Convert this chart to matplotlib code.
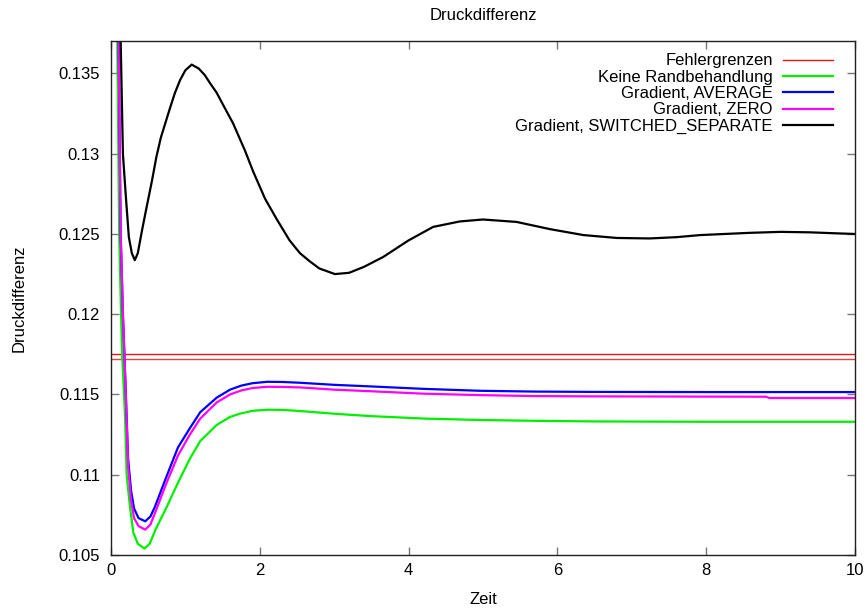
import matplotlib
matplotlib.use("Agg")
import matplotlib.pyplot as plt

plt.rcParams["font.family"] = ["Liberation Sans", "DejaVu Sans"]
plt.rcParams["font.size"] = 12

# Fehlergrenzen (two horizontal limits)
limits = [0.11755, 0.11718]

# Keine Randbehandlung (green)
x_green = [0.05, 0.085, 0.11, 0.135, 0.15, 0.17, 0.19, 0.21, 0.255, 0.30, 0.36,
           0.45, 0.52, 0.60, 0.75, 0.90, 1.06, 1.20, 1.42, 1.60, 1.73, 1.90, 2.10,
           2.30, 2.54, 3.00, 3.50, 4.20, 4.96, 5.70, 6.50, 8.00, 10.0]
y_green = [0.160, 0.137, 0.125, 0.120, 0.1175, 0.1155, 0.1135, 0.1100, 0.1080,
           0.1064, 0.1057, 0.1054, 0.1057, 0.1066, 0.1080, 0.1095, 0.1110, 0.1121,
           0.1131, 0.11360, 0.1138, 0.11398, 0.11405, 0.11404, 0.11397, 0.1138,
           0.11365, 0.1135, 0.11341, 0.11336, 0.11332, 0.1133, 0.1133]

# Gradient, AVERAGE (blue)
x_blue = [0.05, 0.10, 0.13, 0.16, 0.18, 0.20, 0.23, 0.27, 0.31, 0.37, 0.46, 0.53,
          0.59, 0.73, 0.90, 1.06, 1.20, 1.42, 1.60, 1.75, 1.90, 2.10, 2.30, 2.54,
          3.00, 3.50, 4.20, 4.96, 5.70, 6.50, 8.00, 10.0]
y_blue = [0.160, 0.138, 0.125, 0.120, 0.1175, 0.1150, 0.1110, 0.1090, 0.1079,
          0.1073, 0.1071, 0.1074, 0.1080, 0.1097, 0.1117, 0.1129, 0.1139, 0.1148,
          0.1153, 0.11555, 0.11570, 0.11579, 0.11578, 0.11573, 0.1156, 0.1155,
          0.11535, 0.11523, 0.11518, 0.11516, 0.11515, 0.11515]

# Gradient, ZERO (magenta)
x_mag = [0.05, 0.10, 0.13, 0.16, 0.18, 0.20, 0.23, 0.27, 0.31, 0.37, 0.46, 0.53,
         0.59, 0.73, 0.90, 1.06, 1.20, 1.42, 1.60, 1.75, 1.90, 2.10, 2.30, 2.54,
         3.00, 3.50, 4.20, 4.96, 5.70, 6.50, 8.80, 8.85, 10.0]
y_mag = [0.160, 0.138, 0.125, 0.120, 0.1175, 0.1148, 0.1105, 0.1084, 0.1073,
         0.1068, 0.10658, 0.1069, 0.1076, 0.1093, 0.1112, 0.1125, 0.1135, 0.1145,
         0.1150, 0.11525, 0.1154, 0.11548, 0.11547, 0.11544, 0.1153, 0.1152,
         0.11505, 0.11496, 0.1149, 0.11488, 0.11486, 0.11478, 0.11478]

# Gradient, SWITCHED_SEPARATE (black)
x_black = [0.05, 0.13, 0.16, 0.20, 0.24, 0.28, 0.32, 0.36, 0.42, 0.48, 0.55, 0.61,
           0.67, 0.73, 0.79, 0.86, 0.93, 1.00, 1.085, 1.18, 1.26, 1.33, 1.42, 1.50,
           1.64, 1.80, 1.91, 2.07, 2.23, 2.40, 2.54, 2.67, 2.80, 3.01, 3.20, 3.40,
           3.66, 4.00, 4.33, 4.69, 5.00, 5.45, 5.90, 6.35, 6.80, 7.24, 7.60, 7.92,
           8.59, 9.00, 9.40, 9.80, 10.0]
y_black = [0.160, 0.137, 0.130, 0.1273, 0.1248, 0.1238, 0.12337, 0.1238, 0.1253,
           0.1267, 0.1283, 0.1298, 0.1310, 0.1319, 0.1328, 0.1338, 0.1346, 0.1352,
           0.13555, 0.1353, 0.1349, 0.1344, 0.1338, 0.1331, 0.1319, 0.1302, 0.1289,
           0.1272, 0.1259, 0.1246, 0.1238, 0.1233, 0.12285, 0.1225, 0.12258,
           0.12295, 0.12357, 0.12460, 0.12544, 0.12578, 0.1259, 0.12575, 0.1253,
           0.12493, 0.12475, 0.12472, 0.1248, 0.12493, 0.12507, 0.12513, 0.12510,
           0.12503, 0.1250]

fig = plt.figure(figsize=(8.68, 6.09), dpi=100)
ax = fig.add_axes([111 / 868, 1 - 555 / 609, 744 / 868, 514 / 609])

ax.axhline(limits[0], color="#e01818", lw=1.0, label="Fehlergrenzen")
ax.axhline(limits[1], color="#f03c3c", lw=1.0)
ax.plot(x_green, y_green, color="#00ee00", lw=1.6, label="Keine Randbehandlung")
ax.plot(x_blue, y_blue, color="#0000ff", lw=1.6, label="Gradient, AVERAGE")
ax.plot(x_mag, y_mag, color="#ff00ff", lw=1.6, label="Gradient, ZERO")
ax.plot(x_black, y_black, color="black", lw=1.6,
        label="Gradient, SWITCHED_SEPARATE")

ax.set_xlim(0, 10)
ax.set_ylim(0.105, 0.13702)
ax.set_xticks([0, 2, 4, 6, 8, 10])
ax.set_yticks([0.105, 0.11, 0.115, 0.12, 0.125, 0.13, 0.135])
ax.set_yticklabels(["0.105", "0.11", "0.115", "0.12", "0.125", "0.13", "0.135"])
ax.tick_params(direction="in", length=6, width=1, color="#777777",
               top=True, right=True, labelsize=12)
ax.tick_params(axis="x", pad=6)
ax.tick_params(axis="y", pad=8)
for s in ax.spines.values():
    s.set_color("#222222")
    s.set_linewidth(1)

ax.set_xlabel("Zeit", fontsize=12, labelpad=10)
ax.set_ylabel("Druckdifferenz", fontsize=12, labelpad=23)
ax.set_title("Druckdifferenz", fontsize=12, pad=15)

leg = ax.legend(loc="upper right", bbox_to_anchor=(0.9704, 0.976),
                frameon=False, markerfirst=False, borderpad=0, borderaxespad=0,
                handlelength=3.0, handletextpad=0.6, labelspacing=0.08,
                fontsize=12)

fig.savefig("out.png", dpi=100)
